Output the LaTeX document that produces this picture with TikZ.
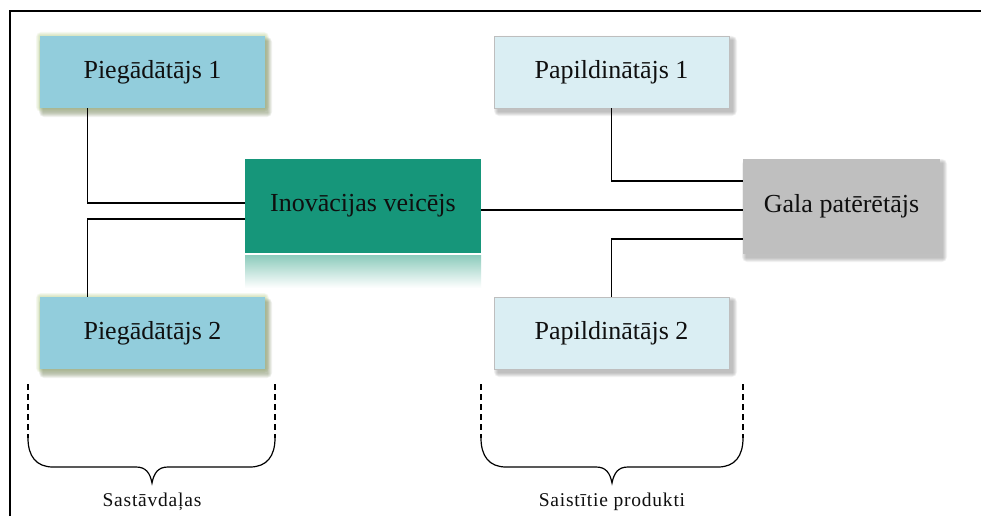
\documentclass[tikz,border=0pt]{standalone}
\usepackage{fontspec}
\setmainfont{Liberation Serif}
\usetikzlibrary{calc}
\definecolor{supfill}{RGB}{146,205,220}
\definecolor{supglow}{RGB}{175,200,120}
\definecolor{supshadow}{RGB}{120,135,95}
\definecolor{innfill}{RGB}{22,150,122}
\definecolor{innrefl}{RGB}{140,203,188}
\definecolor{compfill}{RGB}{218,238,243}
\definecolor{compline}{RGB}{190,190,190}
\definecolor{endfill}{RGB}{191,191,191}
\definecolor{txt}{RGB}{15,15,15}
\tikzset{
  box/.style={rectangle, inner sep=0pt, text=txt, font=\fontsize{26}{30}\selectfont},
  supplier/.style={box, fill=supfill, minimum width=225pt, minimum height=72pt},
  innovator/.style={box, fill=innfill, minimum width=236pt, minimum height=94pt},
  complement/.style={box, fill=compfill, draw=compline, line width=0.8pt, minimum width=235pt, minimum height=72pt},
  consumer/.style={box, fill=endfill, minimum width=197pt, minimum height=95pt},
  link/.style={line width=1.1pt, black},
  bracket/.style={line width=1.2pt, black},
  dashside/.style={line width=1.2pt, black, dash pattern=on 6pt off 4pt},
  caption/.style={text=txt, font=\fontsize{19.5}{23}\selectfont\addfontfeature{LetterSpace=4}, inner sep=0pt}
}
% soft shadow under a rectangle: corners (x1,y1),(x2,y2), offset (dx,dy), colour
\newcommand{\softshadow}[7]{%
  \foreach \k in {0,...,5}{%
    \fill[#7, opacity=0.10, rounded corners=\k pt]
      ({#1+#5-\k*0.8},{#2+#6-\k*0.8}) rectangle ({#3+#5+\k*0.8},{#4+#6+\k*0.8});
  }%
}
\begin{document}
\begin{tikzpicture}[x=1pt, y=-1pt]
\useasboundingbox (0,0) rectangle (981,516);
\fill[white] (0,0) rectangle (981,516);

% outer frame (left and top edge)
\draw[line width=1.5pt] (10,516) -- (10,11) -- (981,11);

% glow and shadows
\softshadow{40}{36}{265}{108}{0}{0}{supglow}
\softshadow{40}{36}{265}{108}{3}{5}{supshadow}
\softshadow{40}{297}{265}{369}{0}{0}{supglow}
\softshadow{40}{297}{265}{369}{3}{5}{supshadow}
\softshadow{494}{36}{729}{108}{4}{4}{gray}
\softshadow{494}{297}{729}{369}{4}{4}{gray}
\softshadow{743}{159}{940}{254}{3}{4}{gray}

% reflection under the innovator
\shade[top color=innrefl, bottom color=white] (245,255) rectangle (481,288);

% boxes
\node[supplier] (P1) at (152.5,72) {Piegādātājs 1};
\node[supplier] (P2) at (152.5,333) {Piegādātājs 2};
\node[innovator] (Inov) at (363,206) {Inovācijas veicējs};
\node[complement] (C1) at (611.5,72) {Papildinātājs 1};
\node[complement] (C2) at (611.5,333) {Papildinātājs 2};
\node[consumer] (End) at (841.5,206.5) {Gala patērētājs};

% connectors
\draw[link] ([xshift=48pt]P1.south west) |- ([yshift=3pt]Inov.west);
\draw[link] ([xshift=48pt]P2.north west) |- ([yshift=-13pt]Inov.west);
\draw[link] ([yshift=-4pt]Inov.east) -- ([yshift=-4pt]Inov.east -| End.west);
\draw[link] (C1.south) |- ([yshift=25.5pt]End.west);
\draw[link] (C2.north) |- ([yshift=-32.5pt]End.west);

% braces with dashed sides
\foreach \a/\m/\b in {28/152/275, 481/612/743}{
  \draw[dashside] (\a,384) -- (\a,438);
  \draw[dashside] (\b,384) -- (\b,438);
  \draw[bracket] (\a,438) .. controls (\a,456) and (\a+8,467) .. (\a+25,467)
    -- (\m-16,467) .. controls (\m-6,467) and (\m-2,473) .. (\m,483)
    .. controls (\m+2,473) and (\m+6,467) .. (\m+16,467)
    -- (\b-25,467) .. controls (\b-8,467) and (\b,456) .. (\b,438);
}
\node[caption] (L1) at (152,502) {Sastāvdaļas};
\node[caption] (L2) at (612,502) {Saistītie produkti};
\end{tikzpicture}
\end{document}
